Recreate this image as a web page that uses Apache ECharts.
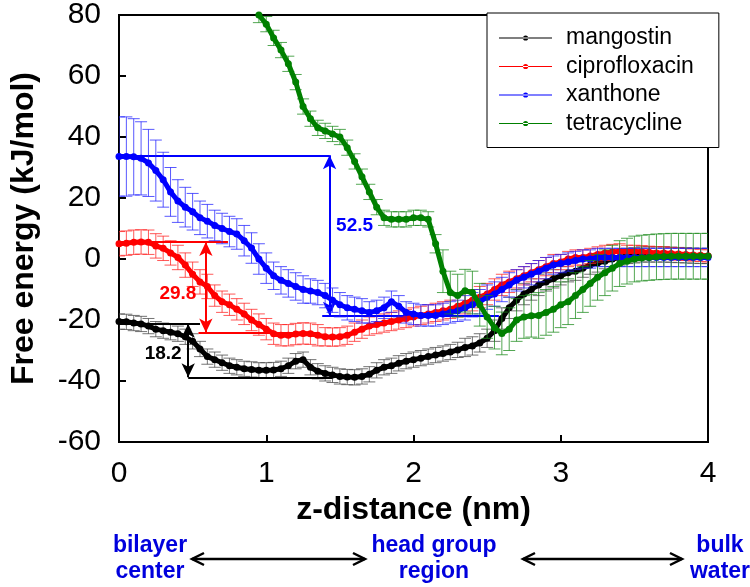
<!DOCTYPE html>
<html>
<head>
<meta charset="utf-8">
<script src="https://cdn.jsdelivr.net/npm/echarts@6/dist/echarts.min.js"></script>
<style>
html,body{margin:0;padding:0;background:#fff;}
#chart{width:750px;height:587px;}
</style>
</head>
<body>
<div id="chart"></div>
<script>
// z-distance grid (nm)
const zDist = [0.00,0.05,0.10,0.15,0.20,0.25,0.30,0.35,0.40,0.45,0.50,0.55,0.60,0.65,0.70,0.75,0.80,0.85,0.90,0.95,
1.00,1.05,1.10,1.15,1.20,1.25,1.30,1.35,1.40,1.45,1.50,1.55,1.60,1.65,1.70,1.75,1.80,1.85,1.90,1.95,
2.00,2.05,2.10,2.15,2.20,2.25,2.30,2.35,2.40,2.45,2.50,2.55,2.60,2.65,2.70,2.75,2.80,2.85,2.90,2.95,
3.00,3.05,3.10,3.15,3.20,3.25,3.30,3.35,3.40,3.45,3.50,3.55,3.60,3.65,3.70,3.75,3.80,3.85,3.90,3.95,4.00];

const mangostin = [-20.5,-20.6,-21.0,-21.3,-22.0,-23.0,-23.5,-24.0,-24.5,-25.5,-27.0,-29.5,-32.0,-33.0,-34.0,-35.0,-35.5,-36.0,-36.2,-36.5,
-36.5,-36.4,-36.0,-35.0,-33.5,-33.0,-35.5,-36.8,-37.5,-38.0,-38.5,-38.7,-38.8,-38.5,-37.8,-36.5,-35.5,-35.0,-34.2,-33.5,
-33.0,-32.5,-32.0,-31.5,-31.0,-30.5,-29.8,-29.0,-28.5,-27.5,-26.0,-23.5,-19.5,-16.0,-13.5,-11.5,-10.0,-8.5,-7.5,-6.5,
-5.5,-4.5,-4.0,-3.0,-2.0,-1.3,-0.7,0.0,0.5,1.0,1.2,1.5,1.5,1.5,1.5,1.4,1.3,1.2,1.1,1.0,1.0];
const mangostinErr = [2.5,2.5,2.5,2.5,2.5,2.5,2.5,2.5,2.5,2.5,2.5,2.5,2.5,2.5,2.5,2.5,2.5,2.5,2.5,2.5,
2.5,2.5,2.5,2.5,2.5,2.5,2.5,2.5,2.5,2.5,2.5,2.5,2.5,2.5,2.5,2.5,2.5,2.5,2.5,2.5,
2.5,2.5,2.5,2.5,2.5,2.5,2.5,3,3,3,3,3.5,3.5,3.5,3.5,3.5,3.5,3.5,3,3,
3,3,3,3,3,3,2.5,2.5,2.5,2.5,2.5,2.5,2.5,2.5,2.5,2.5,2.5,2.5,2.5,2.5,2.5];

const ciprofloxacin = [5.0,5.2,5.5,5.6,5.5,4.3,3.5,2.0,0.5,-2.0,-5.0,-7.5,-9.0,-12.0,-14.0,-15.0,-16.5,-18.0,-20.0,-21.5,
-23.0,-24.5,-25.0,-25.0,-24.6,-24.4,-24.5,-25.0,-25.5,-25.6,-25.5,-25.0,-24.0,-23.0,-22.0,-21.5,-21.0,-20.5,-20.0,-19.5,
-19.0,-18.5,-18.0,-17.5,-17.0,-16.5,-15.5,-14.5,-13.5,-12.5,-11.5,-10.0,-8.5,-7.5,-6.5,-5.5,-4.5,-3.5,-2.5,-1.5,
-1.0,0.0,0.5,0.5,1.0,1.5,2.0,2.3,2.5,2.5,2.5,2.4,2.2,2.0,2.0,1.8,1.6,1.5,1.3,1.2,1.0];
const ciprofloxacinErr = [4,4,4,4,4,4,4,4,4,4,4,4,4,3.5,3.5,3.5,3.5,3.5,3.5,3.5,
3.5,3.5,3.5,3.5,3.5,3.5,3.5,3.5,3,3,3,3,3,3,3,3,3,3,3,3,
3,3,3,3,3,3,3.5,3.5,3.5,3.5,3.5,3.5,3.5,3.5,3,3,3,3,3,3,
2.5,2.5,2.5,2.5,2.5,2.5,2.5,2.5,2.5,2,2,2,2,2,2,2,2,2,2,2,2];

const xanthone = [33.6,33.6,33.5,33.0,31.5,29.0,26.0,22.0,19.0,17.0,15.5,13.5,12.4,11.0,10.0,9.0,8.2,6.0,3.6,0.0,
-3.0,-5.5,-7.0,-8.0,-9.0,-10.0,-10.5,-11.0,-12.0,-13.5,-15.0,-16.0,-16.5,-17.0,-17.5,-17.0,-16.0,-14.0,-15.5,-17.5,
-18.0,-18.5,-18.5,-18.5,-18.0,-17.5,-17.0,-16.0,-15.0,-14.0,-12.5,-11.5,-10.0,-8.5,-7.0,-6.0,-5.0,-4.0,-3.0,-2.0,
-1.5,-1.0,-0.5,0.0,0.0,0.5,0.5,0.5,0.5,0.5,0.5,0.5,0.5,0.5,0.5,0.5,0.5,0.5,0.5,0.5,0.5];
const xanthoneErr = [13,13,12.5,12,11,10,9,8,7,6.5,6,5.5,5.5,5,5,5,5,5,5,5,
5,4.5,4.5,4.5,4.5,4.5,4,4,4,4,4,4,4,4,3.5,3.5,3.5,3.5,3.5,3.5,
3.5,3.5,3.5,3.5,3.5,3.5,3.5,4,4,4,4,4,4,4,3.5,3.5,3.5,3.5,3.5,3,
3,3,3,3,3,3,3,3,3,3,3,3,3,3,3,3,3,3,3,3,3];

const tetraDist = [0.95,1.00,1.05,1.10,1.15,1.20,1.25,1.30,1.35,1.40,1.45,1.50,1.55,1.60,1.65,1.70,1.75,1.80,1.85,1.90,1.95,
2.00,2.05,2.10,2.15,2.20,2.25,2.30,2.35,2.40,2.45,2.50,2.55,2.60,2.65,2.70,2.75,2.80,2.85,2.90,2.95,
3.00,3.05,3.10,3.15,3.20,3.25,3.30,3.35,3.40,3.45,3.50,3.55,3.60,3.65,3.70,3.75,3.80,3.85,3.90,3.95,4.00];
const tetracycline = [80,77,72.5,68.5,64,58,50,46,43,42,41,40,36.5,32,27,22,17,13.5,13,13,13,
13.5,13.5,13,5,-4,-11,-12,-10.4,-11,-15,-19,-22.5,-24.4,-23,-20,-19,-18.6,-18.5,-17.5,-16.5,
-15,-14,-12,-10,-8,-6,-4.5,-3,-1.5,-0.7,0,0.3,0.5,0.7,0.8,0.9,0.9,0.9,0.9,0.9,0.9];
const tetracyclineErr = [2.5,2.5,2.5,2.5,2.5,2.5,2.5,2.5,2.5,2.5,2.5,2.5,2.5,2.5,2.5,2.5,2.5,2.5,2.5,2.5,2.5,
2.5,2.5,2.5,3,7,7,7,7,7,7,7,7,7,7,7,7,7,7.5,7.5,7.5,
7.5,7.5,7.5,7.5,7.5,7.5,7.5,7.5,7.5,7.5,7.5,7.5,7.5,7.5,7.5,7.5,7.5,7.5,7.5,7.5,7.5];

// barrier annotations: [arrow x, upper level, lower level, upper line start, upper line end, lower line start, lower line end, label x, label y, label]
const barrierMangostin = [0.47, -21.2, -38.8, 0, 0.55, 0.47, 1.45, 0.30, -31, '18.2'];
const barrierCipro = [0.59, 5.6, -24.1, 0, 0.74, 0.54, 1.35, 0.40, -11.4, '29.8'];
const barrierXanthone = [1.43, 34.0, -18.6, 0, 1.43, 1.38, 2.58, 1.60, 10.8, '52.5'];

const xTicks = [0, 1, 2, 3, 4];
const yTicks = [-60, -40, -20, 0, 20, 40, 60, 80];

const FONT = "'Liberation Sans', Arial, sans-serif";

function pairs(xv, yv) { return xv.map((x, i) => [x, yv[i]]); }

function errSeries(name, color, xv, yv, ev, z) {
  return {
    type: 'custom', name: name + ' error', clip: true, z: z, silent: true,
    data: xv.map((x, i) => [x, yv[i] - ev[i], yv[i] + ev[i]]),
    encode: { x: 0, y: [1, 2] },
    renderItem: function (params, api) {
      const x = api.value(0);
      const lo = api.coord([x, api.value(1)]);
      const hi = api.coord([x, api.value(2)]);
      const hw = 6;
      const st = { stroke: color, lineWidth: 1, opacity: 0.75 };
      return { type: 'group', children: [
        { type: 'line', shape: { x1: lo[0], y1: lo[1], x2: hi[0], y2: hi[1] }, style: st },
        { type: 'line', shape: { x1: lo[0] - hw, y1: lo[1], x2: lo[0] + hw, y2: lo[1] }, style: st },
        { type: 'line', shape: { x1: hi[0] - hw, y1: hi[1], x2: hi[0] + hw, y2: hi[1] }, style: st }
      ] };
    }
  };
}

function barrierMarks(b, color) {
  return {
    markLine: {
      silent: true, animation: false,
      lineStyle: { color: color, width: 2, type: 'solid' },
      label: { show: false },
      data: [
        [{ coord: [b[3], b[1]], symbol: 'none' }, { coord: [b[4], b[1]], symbol: 'none' }],
        [{ coord: [b[5], b[2]], symbol: 'none' }, { coord: [b[6], b[2]], symbol: 'none' }],
        [{ coord: [b[0], b[1]], symbol: 'arrow', symbolSize: [10, 14] }, { coord: [b[0], b[2]], symbol: 'arrow', symbolSize: [10, 14] }]
      ]
    },
    markPoint: {
      silent: true, animation: false,
      symbol: 'circle', symbolSize: 0,
      label: { show: true, formatter: '{b}', color: color, fontSize: 19, fontWeight: 'bold', fontFamily: FONT },
      data: [{ name: b[9], coord: [b[7], b[8]] }]
    }
  };
}

function lineSeries(name, color, xv, yv, z, marks) {
  return Object.assign({
    type: 'line', name: name, z: z,
    data: pairs(xv, yv),
    symbol: 'circle', symbolSize: 7, showSymbol: true,
    lineStyle: { color: color, width: 5 },
    itemStyle: { color: color },
    clip: true, animation: false
  }, marks || {});
}

const legendIcon = 'path://M0,3h53v1.2h-53z M24,3.6a2.6,2.6 0 1,0 5.2,0a2.6,2.6 0 1,0 -5.2,0z';
const regionFont = "bold 23px 'Liberation Sans', Arial, sans-serif";

function regionText(label, cx) {
  return { type: 'text', x: cx, y: 533, silent: true,
    style: { text: label, fill: '#0000dd', font: regionFont, textAlign: 'center', textVerticalAlign: 'top', lineHeight: 26 } };
}
function doubleArrow(x1, x2, y) {
  const st = { stroke: '#000', lineWidth: 2.5, fill: null };
  return [
    { type: 'polyline', silent: true, shape: { points: [[x1, y], [x2, y]] }, style: st },
    { type: 'polyline', silent: true, shape: { points: [[x1 + 12, y - 6], [x1, y], [x1 + 12, y + 6]] }, style: st },
    { type: 'polyline', silent: true, shape: { points: [[x2 - 12, y - 6], [x2, y], [x2 - 12, y + 6]] }, style: st }
  ];
}

const chart = echarts.init(document.getElementById('chart'), null, { renderer: 'canvas' });
chart.setOption({
  animation: false,
  backgroundColor: '#fff',
  grid: { left: 112, right: 42, top: 13, bottom: 145, show: true, borderColor: '#000', borderWidth: 2, backgroundColor: 'transparent' },
  xAxis: {
    type: 'value', min: xTicks[0], max: xTicks[xTicks.length - 1], interval: 1,
    name: 'z-distance (nm)', nameLocation: 'middle', nameGap: 50,
    nameTextStyle: { fontSize: 32, fontWeight: 'bold', color: '#000', fontFamily: FONT },
    axisLine: { onZero: false, lineStyle: { color: '#000', width: 2 } },
    axisTick: { inside: true, length: 7, lineStyle: { color: '#000', width: 2 } },
    axisLabel: { fontSize: 30, color: '#000', margin: 17, fontFamily: FONT },
    splitLine: { show: false }
  },
  yAxis: {
    type: 'value', min: yTicks[0], max: yTicks[yTicks.length - 1], interval: 20,
    name: 'Free energy (kJ/mol)', nameLocation: 'middle', nameGap: 79,
    nameTextStyle: { fontSize: 32, fontWeight: 'bold', color: '#000', fontFamily: FONT },
    axisLine: { onZero: false, lineStyle: { color: '#000', width: 2 } },
    axisTick: { inside: true, length: 7, lineStyle: { color: '#000', width: 2 } },
    axisLabel: { fontSize: 30, color: '#000', margin: 18, fontFamily: FONT },
    splitLine: { show: false }
  },
  legend: {
    left: 487, top: 13, orient: 'vertical',
    backgroundColor: '#fff', borderColor: '#000', borderWidth: 1,
    padding: [13, 25, 12, 12], itemGap: 4.5,
    itemWidth: 53, itemHeight: 7,
    textStyle: { fontSize: 23, color: '#000', fontFamily: FONT, lineHeight: 24, padding: [0, 0, 0, 9] },
    data: [
      { name: 'mangostin', icon: legendIcon },
      { name: 'ciprofloxacin', icon: legendIcon },
      { name: 'xanthone', icon: legendIcon },
      { name: 'tetracycline', icon: legendIcon }
    ]
  },
  series: [
    errSeries('mangostin', '#444444', zDist, mangostin, mangostinErr, 2),
    lineSeries('mangostin', '#000000', zDist, mangostin, 3, barrierMarks(barrierMangostin, '#000000')),
    errSeries('ciprofloxacin', '#ff2020', zDist, ciprofloxacin, ciprofloxacinErr, 4),
    lineSeries('ciprofloxacin', '#ff0000', zDist, ciprofloxacin, 5, barrierMarks(barrierCipro, '#ff0000')),
    errSeries('xanthone', '#2020ff', zDist, xanthone, xanthoneErr, 6),
    lineSeries('xanthone', '#0000ff', zDist, xanthone, 7, barrierMarks(barrierXanthone, '#0000ff')),
    errSeries('tetracycline', '#1a8a1a', tetraDist, tetracycline, tetracyclineErr, 8),
    lineSeries('tetracycline', '#008000', tetraDist, tetracycline, 9)
  ],
  graphic: [
    regionText('bilayer\ncenter', 150),
    regionText('head group\nregion', 434),
    regionText('bulk\nwater', 720)
  ].concat(doubleArrow(192, 365, 559), doubleArrow(523, 682, 559))
});
</script>
</body>
</html>
